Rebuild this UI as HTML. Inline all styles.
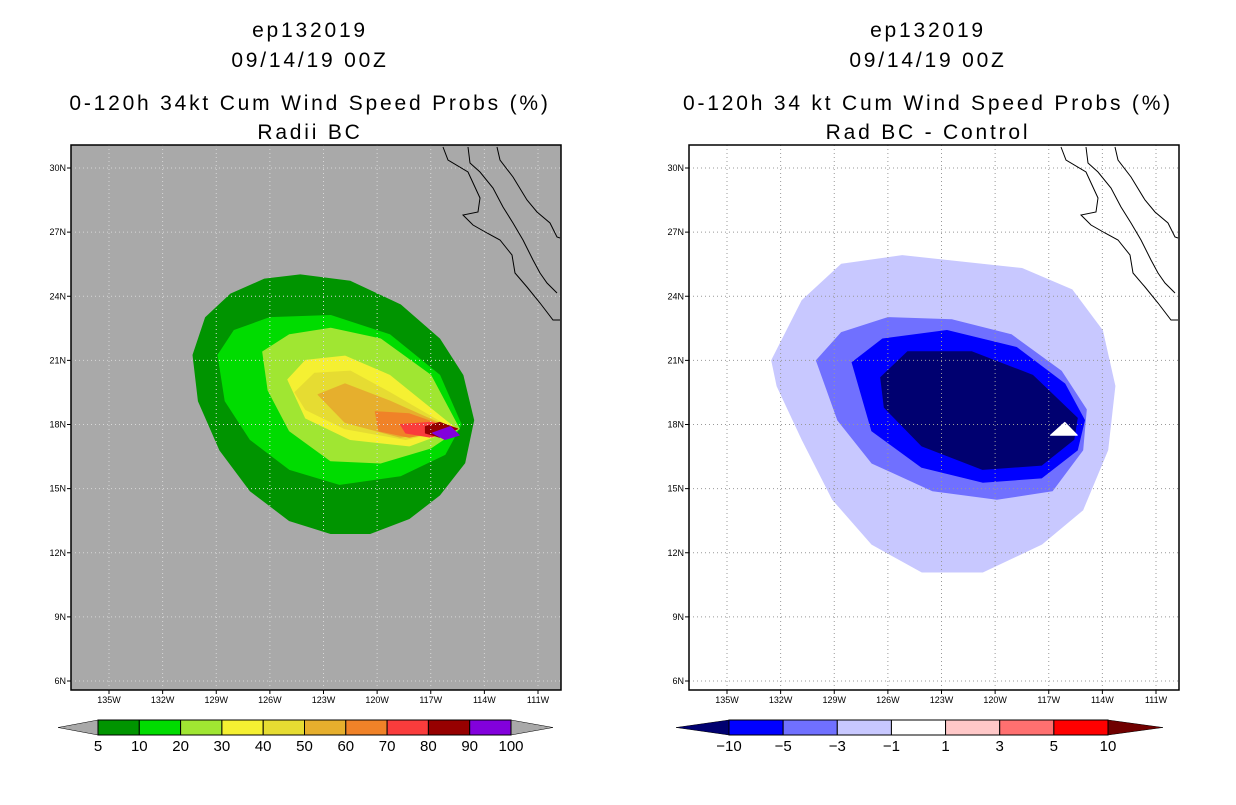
<!DOCTYPE html>
<html><head><meta charset="utf-8"><style>
body{margin:0;background:#fff;width:1236px;height:800px;overflow:hidden;font-family:"Liberation Sans",sans-serif}
svg text{font-family:"Liberation Sans",sans-serif}
</style></head><body>
<svg id="c" width="1236" height="800" xmlns="http://www.w3.org/2000/svg"></svg>
<script>
const latTicks=[30,27,24,21,18,15,12,9,6];
const lonTicks=[-135,-132,-129,-126,-123,-120,-117,-114,-111];
const lonLabels=["135W","132W","129W","126W","123W","120W","117W","114W","111W"];
const leftLevels=["5","10","20","30","40","50","60","70","80","90","100"];
const leftColors=["#009400","#00dc00","#a0e632","#f5f032","#e6dc32","#e6af2d","#f08228","#fa3c3c","#960000","#8200dc"];
const rightLevels=["-10","-5","-3","-1","1","3","5","10"];
const rightColors=["#0000ff","#7070ff","#c8c8ff","#ffffff","#ffc8c8","#ff7070","#ff0000"];
// probability contours (lon, lat)
const probContours=[
[[-130.3,21.25],[-129.6,23.0],[-128.2,24.1],[-126.3,24.8],[-124.3,25.0],[-121.5,24.7],[-118.7,23.6],[-116.5,22.0],[-115.2,20.3],[-114.6,18.2],[-115.1,16.2],[-116.5,14.7],[-118.2,13.6],[-120.4,12.9],[-122.6,12.9],[-124.9,13.5],[-127.1,14.9],[-128.8,16.8],[-130.0,19.1]],
[[-128.9,21.25],[-128.0,22.4],[-126.0,23.0],[-122.6,23.1],[-119.3,22.2],[-116.5,20.3],[-115.3,18.0],[-116.2,16.6],[-118.7,15.6],[-122.1,15.2],[-124.9,15.9],[-127.1,17.3],[-128.5,19.1]],
[[-126.4,21.4],[-124.9,22.2],[-122.6,22.5],[-119.8,22.0],[-117.0,20.3],[-115.4,17.8],[-117.0,16.9],[-119.8,16.2],[-122.6,16.3],[-124.9,17.7],[-126.1,19.6]],
[[-125.0,20.1],[-124.0,21.0],[-121.8,21.2],[-119.3,20.3],[-115.6,17.8],[-118.2,17.0],[-121.5,17.3],[-124.0,18.3]],
[[-124.6,19.5],[-123.5,20.4],[-121.5,20.5],[-119.3,19.5],[-115.8,17.8],[-118.4,17.3],[-121.8,17.8],[-124.0,18.7]],
[[-123.3,19.4],[-121.8,19.9],[-119.3,19.1],[-115.8,17.8],[-118.7,17.4],[-121.8,18.1]],
[[-120.1,18.6],[-118.2,18.5],[-115.8,17.8],[-118.2,17.4],[-119.9,17.7]],
[[-118.7,18.0],[-117.0,18.1],[-115.6,17.8],[-117.0,17.4],[-118.4,17.6]],
[[-117.3,17.9],[-116.5,18.1],[-115.5,17.8],[-116.5,17.4],[-117.3,17.6]],
[[-116.9,17.6],[-115.9,17.9],[-115.4,17.5],[-116.2,17.3]]];
const diffContours=[
[[-132.5,21.0],[-130.8,23.8],[-128.6,25.5],[-125.2,25.9],[-121.9,25.6],[-118.5,25.3],[-115.7,24.3],[-114.0,22.4],[-113.3,19.8],[-113.7,16.8],[-115.1,14.0],[-117.4,12.4],[-120.7,11.1],[-124.1,11.1],[-126.9,12.4],[-129.1,14.5],[-130.8,17.3],[-132.2,19.8]],
[[-130.0,21.0],[-128.6,22.3],[-126.0,23.0],[-122.4,22.9],[-119.1,22.2],[-116.3,20.5],[-114.9,18.7],[-115.1,16.8],[-116.8,14.9],[-119.9,14.5],[-123.5,14.9],[-126.9,16.2],[-128.8,18.2]],
[[-128.0,20.9],[-126.3,22.0],[-122.7,22.4],[-118.8,21.6],[-116.1,19.9],[-115.0,18.2],[-115.4,16.8],[-117.4,15.5],[-120.7,15.3],[-124.1,16.0],[-126.9,17.7]],
[[-126.4,20.2],[-124.9,21.4],[-121.3,21.4],[-117.9,20.3],[-115.4,18.3],[-115.6,17.3],[-117.4,16.1],[-120.7,15.9],[-124.1,17.0],[-126.2,18.8]],
[[-116.9,17.5],[-116.1,18.1],[-115.4,17.5]]];
const diffColors=["#c8c8ff","#7070ff","#0000ff","#000070","#ffffff"];
// coastline, pixel offsets within left panel frame
const coasts=[
[[443,147],[448,160],[468,172],[480,198],[478,212],[463,215],[473,225],[487,233],[500,240],[512,255],[515,273],[527,287],[540,303],[553,320],[560,320]],
[[468,147],[470,163],[480,172],[493,188],[503,207],[513,223],[523,240],[533,260],[540,273],[547,283],[557,293]],
[[497,147],[500,160],[513,177],[527,200],[537,212],[550,223],[557,237],[560,238]]];
const NS="http://www.w3.org/2000/svg";
const svg=document.getElementById('c');
function mk(t,a,p){const e=document.createElementNS(NS,t);for(const k in a)e.setAttribute(k,a[k]);(p||svg).appendChild(e);return e;}
function panel(off,bg,contours,colors,gridCol,titles,cx){
  const X0=71+off,X1=561+off,Y0=145,Y1=690;
  const xs=lon=>109+off+(lon+135)*17.875, ys=lat=>168+(30-lat)*21.375;
  const g=mk('g',{});
  
  
  const cp='cp'+off;const cl=mk('clipPath',{id:cp},g);mk('rect',{x:X0,y:Y0,width:X1-X0,height:Y1-Y0},cl);
  const bgr=mk('rect',{x:X0,y:Y0,width:X1-X0,height:Y1-Y0,fill:bg},g);
  
  const inner=mk('g',{'clip-path':`url(#${cp})`},g);
  contours.forEach((c,i)=>{
    const p=mk('path',{d:'M'+c.map(q=>xs(q[0]).toFixed(1)+','+ys(q[1]).toFixed(1)).join('L')+'Z',fill:colors[i],'stroke':colors[i],'stroke-width':1,'stroke-linejoin':'round'},inner);
    
    
  });
  lonTicks.forEach(l=>mk('line',{x1:xs(l),x2:xs(l),y1:Y0,y2:Y1,stroke:gridCol,'stroke-dasharray':'1,3'},inner));
  latTicks.forEach(l=>mk('line',{x1:X0,x2:X1,y1:ys(l),y2:ys(l),stroke:gridCol,'stroke-dasharray':'1,3'},inner));
  coasts.forEach(c=>{const p=mk('polyline',{points:c.map(q=>(q[0]+off)+','+q[1]).join(' '),fill:'none',stroke:'#000','stroke-width':1},inner);
    });
  mk('rect',{x:X0,y:Y0,width:X1-X0,height:Y1-Y0,fill:'none',stroke:'#000','stroke-width':1.5},g);
  latTicks.forEach(l=>{mk('line',{x1:X0-4,x2:X0,y1:ys(l),y2:ys(l),stroke:'#000'},g);
    const t=mk('text',{x:X0-5,y:ys(l)+3,'font-size':9,'text-anchor':'end'},g);t.textContent=l+'N';
    });
  lonTicks.forEach((l,i)=>{mk('line',{x1:xs(l),x2:xs(l),y1:Y1,y2:Y1+4,stroke:'#000'},g);
    const t=mk('text',{x:xs(l),y:Y1+13,'font-size':9,'text-anchor':'middle'},g);t.textContent=lonLabels[i];
    });
  const ty=[37,67,110,139];
  titles.forEach((s,i)=>{const t=mk('text',{x:cx,y:ty[i],'font-size':21,'text-anchor':'middle','letter-spacing':'2.8'},g);t.textContent=s;
    });
}
panel(0,'#a9a9a9',probContours,leftColors,'#d8d8d8',["ep132019","09/14/19 00Z","0-120h 34kt Cum Wind Speed Probs (%)","Radii BC"],310);
panel(618,'#ffffff',diffContours,diffColors,'#999','ep132019,09/14/19 00Z,0-120h 34 kt Cum Wind Speed Probs (%),Rad BC - Control'.split(','),928);
function colorbar(x0,x1,tl,tr,cols,labels,lc,rc,name){
  const g=mk('g',{});
  const y0=720,y1=735,ym=727.5,w=(x1-x0)/cols.length;
  mk('polygon',{points:`${tl},${ym} ${x0},${y0} ${x0},${y1}`,fill:lc,stroke:'#000','stroke-width':0.5},g);
  mk('polygon',{points:`${tr},${ym} ${x1},${y0} ${x1},${y1}`,fill:rc,stroke:'#000','stroke-width':0.5},g);
  cols.forEach((c,i)=>{const r=mk('rect',{x:x0+i*w,y:y0,width:w,height:y1-y0,fill:c,stroke:'#000','stroke-width':1},g);
    });
  labels.forEach((s,i)=>{const t=mk('text',{x:x0+i*w,y:751,'font-size':15,'text-anchor':'middle'},g);t.textContent=s.replace('-','\u2212');
    });
}
colorbar(98,511,58,553,leftColors,leftLevels,'#a9a9a9','#a9a9a9','prob-colorbar');
colorbar(729,1108,676,1163,rightColors,rightLevels,'#000070','#700000','diff-colorbar');
</script>
</body></html>
